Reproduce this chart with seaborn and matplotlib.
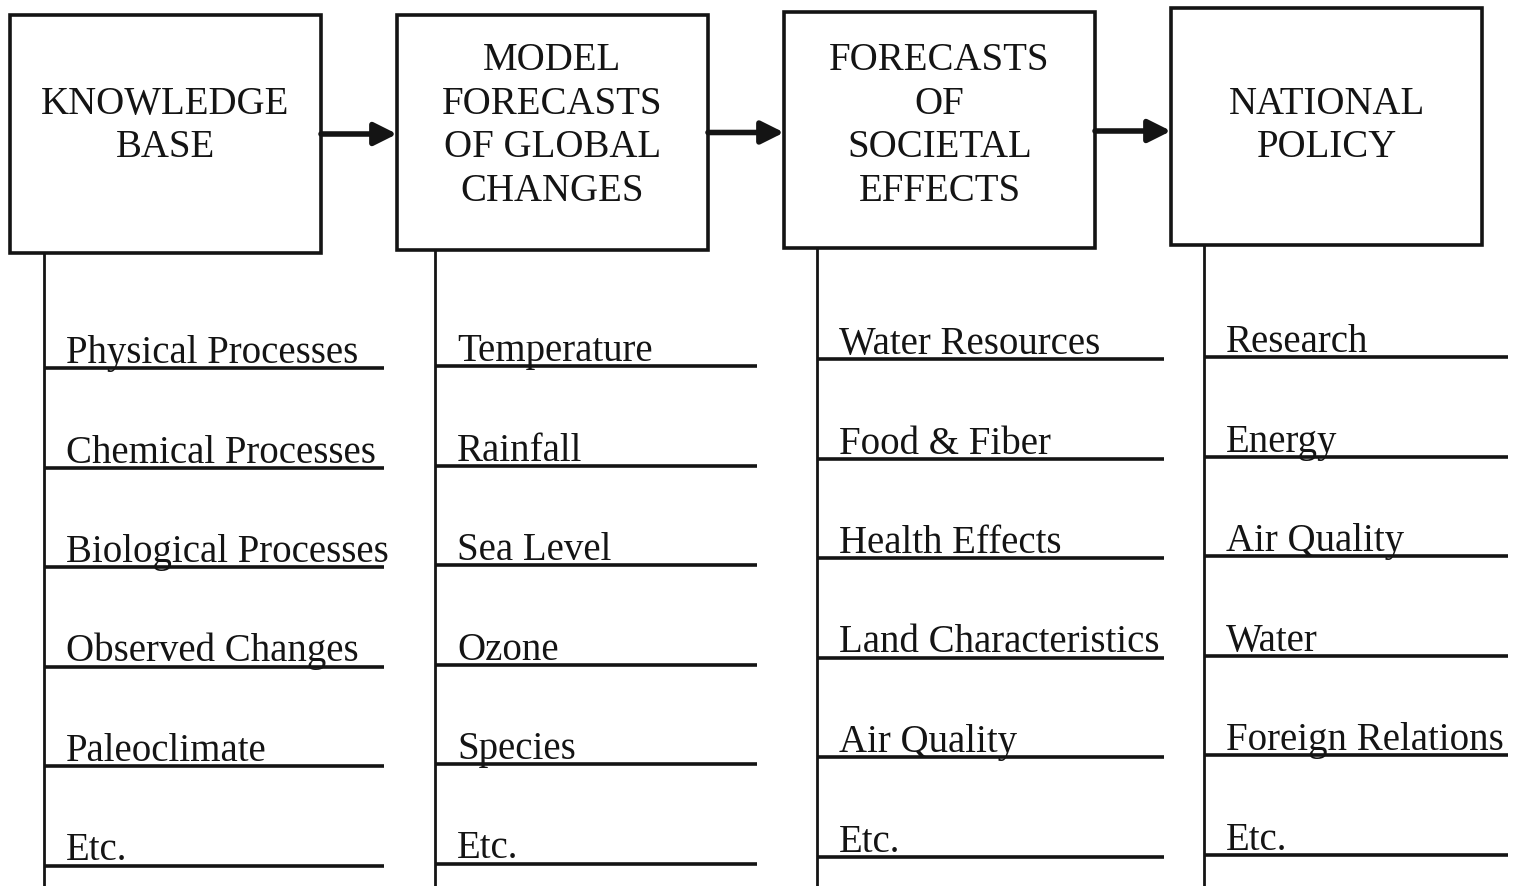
import matplotlib.pyplot as plt
import seaborn as sns
from matplotlib.patches import Rectangle

# Plain white style, serif font like the typed original
sns.set_theme(style="white")
plt.rcParams['font.family'] = ['Liberation Serif', 'DejaVu Serif']

# Diagram content
box_titles = [
    "KNOWLEDGE\nBASE",
    "MODEL\nFORECASTS\nOF GLOBAL\nCHANGES",
    "FORECASTS\nOF\nSOCIETAL\nEFFECTS",
    "NATIONAL\nPOLICY",
]
knowledge_items = ["Physical Processes", "Chemical Processes", "Biological Processes",
                   "Observed Changes", "Paleoclimate", "Etc."]
model_items = ["Temperature", "Rainfall", "Sea Level", "Ozone", "Species", "Etc."]
societal_items = ["Water Resources", "Food & Fiber", "Health Effects",
                  "Land Characteristics", "Air Quality", "Etc."]
policy_items = ["Research", "Energy", "Air Quality", "Water", "Foreign Relations", "Etc."]
columns = [knowledge_items, model_items, societal_items, policy_items]

# Layout (pixel units, y grows downward)
W, H = 1527, 886
box_left = [10, 397, 784, 1171]
box_top = [15, 15, 12, 8]
box_bottom = [253, 250, 248, 245]
box_width = 311
stem_x = [44, 435, 817, 1204]
line_end = [384, 757, 1164, 1508]
first_row_y = [368, 366, 359, 357]
row_gap = 99.5
ink = "#141414"
fs = 28

fig = plt.figure(figsize=(W / 100, H / 100), dpi=100)
ax = fig.add_axes([0, 0, 1, 1])
ax.set_xlim(0, W)
ax.set_ylim(H, 0)
ax.axis("off")

for i, title in enumerate(box_titles):
    x0, top, bot = box_left[i], box_top[i], box_bottom[i]
    ax.add_patch(Rectangle((x0, top), box_width, bot - top, fill=False,
                           edgecolor=ink, lw=2.6))
    ax.text(x0 + box_width / 2, 126, title, ha="center", va="center",
            fontsize=fs, color=ink, linespacing=1.24)

    # vertical stem down the left side of each column
    sx = stem_x[i]
    ax.vlines(sx, bot, H, color=ink, lw=2.0)

    # underlined list entries
    for r, label in enumerate(columns[i]):
        y = first_row_y[i] + r * row_gap
        ax.hlines(y, sx, line_end[i], color=ink, lw=2.6)
        ax.text(sx + 22, y - 5, label, ha="left", va="baseline",
                fontsize=fs, color=ink)

    # arrow to the next box
    if i < len(box_titles) - 1:
        ya = 134 - i * 1.5
        ax.annotate("", xy=(box_left[i + 1], ya), xytext=(x0 + box_width, ya),
                    arrowprops=dict(arrowstyle="-|>", lw=4, color=ink,
                                    mutation_scale=34, shrinkA=0, shrinkB=0))

fig.savefig("out.png", dpi=100, facecolor="white")
